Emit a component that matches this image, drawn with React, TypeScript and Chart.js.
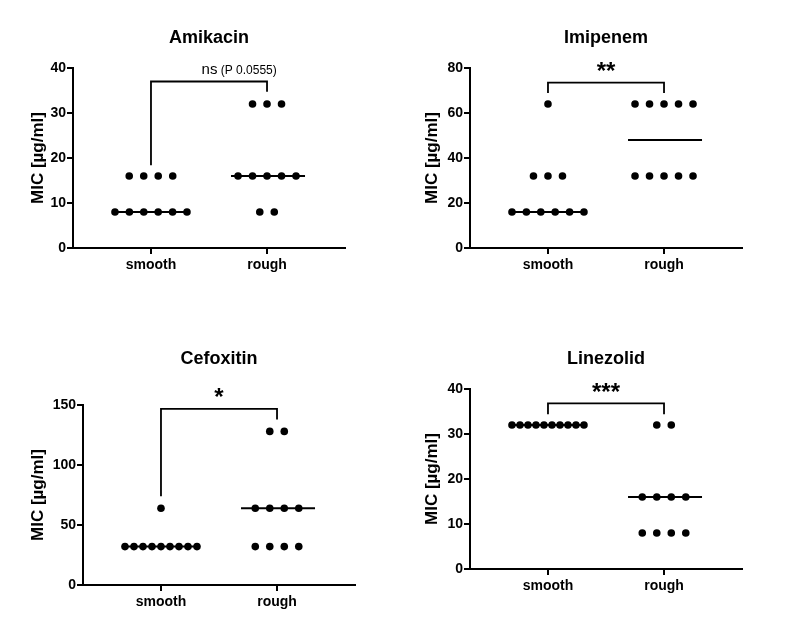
import React, { useEffect, useRef } from 'react';
import { Chart, registerables } from 'chart.js';

Chart.register(...registerables);

const FONT = '"Liberation Sans", Arial, Helvetica, sans-serif';

// ---------- data ----------
const CATEGORIES = ['smooth', 'rough'];
const TITLES = ['Amikacin', 'Imipenem', 'Cefoxitin', 'Linezolid'];
const Y_LABEL = 'MIC [µg/ml]';

const AMIKACIN_SMOOTH = [8, 8, 8, 8, 8, 8, 16, 16, 16, 16];
const AMIKACIN_ROUGH = [8, 8, 16, 16, 16, 16, 16, 32, 32, 32];
const IMIPENEM_SMOOTH = [16, 16, 16, 16, 16, 16, 32, 32, 32, 64];
const IMIPENEM_ROUGH = [32, 32, 32, 32, 32, 64, 64, 64, 64, 64];
const CEFOXITIN_SMOOTH = [32, 32, 32, 32, 32, 32, 32, 32, 32, 64];
const CEFOXITIN_ROUGH = [32, 32, 32, 32, 64, 64, 64, 64, 128, 128];
const LINEZOLID_SMOOTH = [32, 32, 32, 32, 32, 32, 32, 32, 32, 32];
const LINEZOLID_ROUGH = [8, 8, 8, 8, 16, 16, 16, 16, 32, 32];

const Y_MAX = [40, 80, 150, 40];
const Y_STEP = [10, 20, 50, 10];

// significance brackets (values on the y scale)
const BRACKET_TOP = [37, 73.5, 146.7, 36.8];
const BRACKET_LEFT_END = [18.4, 68.9, 74, 34.4];
const BRACKET_RIGHT_END = [34.7, 68.9, 138, 34.4];
const BRACKET_LABEL = ['ns', '**', '*', '***'];
const BRACKET_NOTE = [' (P 0.0555)', '', '', ''];
const BRACKET_LABEL_X = [0.76, 0.5, 0.5, 0.5];

const GROUPS = [
  [AMIKACIN_SMOOTH, AMIKACIN_ROUGH],
  [IMIPENEM_SMOOTH, IMIPENEM_ROUGH],
  [CEFOXITIN_SMOOTH, CEFOXITIN_ROUGH],
  [LINEZOLID_SMOOTH, LINEZOLID_ROUGH],
];

// ---------- layout (style only) ----------
const PLOT_W = 272;
const PLOT_H = 180;
const Y_AXIS_W = 70;
const X_AXIS_H = 40;
const TOP_SPACE = 60;
const RIGHT_PAD = 10;
const X_MIN = -0.672;
const X_MAX = 1.672;
const PX_PER_CAT = PLOT_W / (X_MAX - X_MIN);
const MAX_DOT_SPACING = 14.5;
const ROW_WIDTH = 72;
const MEDIAN_LEFT = 36;
const MEDIAN_RIGHT = 38;
const Y_TITLE_SIZE = 17;
const STAR_SIZE = 24;

const PANELS = [
  { plotLeft: 73, plotTop: 68, titleY: 38, yTitleOffset: 35 },
  { plotLeft: 470, plotTop: 68, titleY: 38, yTitleOffset: 38 },
  { plotLeft: 83, plotTop: 405, titleY: 359, yTitleOffset: 45 },
  { plotLeft: 470, plotTop: 389, titleY: 359, yTitleOffset: 38 },
];

function swarm(values: number[], cat: number) {
  const counts = new Map<number, number>();
  values.forEach((v) => counts.set(v, (counts.get(v) || 0) + 1));
  const pts: { x: number; y: number }[] = [];
  counts.forEach((n, v) => {
    const sp = Math.min(MAX_DOT_SPACING, ROW_WIDTH / Math.max(n - 1, 1)) / PX_PER_CAT;
    for (let k = 0; k < n; k++) pts.push({ x: cat + (k - (n - 1) / 2) * sp, y: v });
  });
  return pts;
}

function median(values: number[]) {
  const s = [...values].sort((a, b) => a - b);
  const m = Math.floor(s.length / 2);
  return s.length % 2 ? s[m] : (s[m - 1] + s[m]) / 2;
}

const bracketPlugin = {
  id: 'bracket',
  afterDatasetsDraw(chart: any, _args: any, opts: any) {
    const { ctx } = chart;
    const x = chart.scales.x;
    const y = chart.scales.y;
    const x0 = x.getPixelForValue(0);
    const x1 = x.getPixelForValue(1);
    const yt = y.getPixelForValue(opts.top);
    const yl = y.getPixelForValue(opts.leftEnd);
    const yr = y.getPixelForValue(opts.rightEnd);
    ctx.save();
    ctx.strokeStyle = '#000';
    ctx.lineWidth = 1.8;
    ctx.lineCap = 'butt';
    ctx.lineJoin = 'miter';
    ctx.beginPath();
    ctx.moveTo(x0, yl);
    ctx.lineTo(x0, yt);
    ctx.lineTo(x1, yt);
    ctx.lineTo(x1, yr);
    ctx.stroke();
    ctx.fillStyle = '#000';
    ctx.textBaseline = 'alphabetic';
    const lx = x.getPixelForValue(opts.labelX);
    if (opts.note) {
      ctx.font = `15px ${FONT}`;
      const w1 = ctx.measureText(opts.label).width;
      ctx.font = `12px ${FONT}`;
      const w2 = ctx.measureText(opts.note).width;
      const start = lx - (w1 + w2) / 2;
      ctx.textAlign = 'left';
      ctx.font = `15px ${FONT}`;
      ctx.fillText(opts.label, start, yt - 8);
      ctx.font = `12px ${FONT}`;
      ctx.fillText(opts.note, start + w1, yt - 8);
    } else {
      ctx.textAlign = 'center';
      ctx.font = `bold ${STAR_SIZE}px ${FONT}`;
      ctx.fillText(opts.label, lx, yt - 3.5);
    }
    ctx.restore();
  },
};

function Panel({ i }: { i: number }) {
  const ref = useRef<HTMLCanvasElement>(null);
  const p = PANELS[i];
  const cw = Y_AXIS_W + PLOT_W + RIGHT_PAD;
  const ch = TOP_SPACE + PLOT_H + X_AXIS_H;
  const left = p.plotLeft - Y_AXIS_W;
  const top = p.plotTop - TOP_SPACE;

  useEffect(() => {
    if (!ref.current) return;
    const titleSize = 18;
    const lh = titleSize * 1.2;
    const t1 = p.titleY - top - lh / 2;
    const t2 = TOP_SPACE - lh - t1;
    const yTitlePad = Y_AXIS_W - p.yTitleOffset - (Y_TITLE_SIZE * 1.2) / 2;
    const datasets: any[] = [];
    GROUPS[i].forEach((vals, c) => {
      datasets.push({
        data: swarm(vals, c),
        backgroundColor: '#000',
        borderWidth: 0,
        pointRadius: 3.8,
        showLine: false,
        clip: false,
        order: 0,
      });
    });
    GROUPS[i].forEach((vals, c) => {
      const m = median(vals);
      datasets.push({
        data: [
          { x: c - MEDIAN_LEFT / PX_PER_CAT, y: m },
          { x: c + MEDIAN_RIGHT / PX_PER_CAT, y: m },
        ],
        showLine: true,
        borderColor: '#000',
        borderWidth: 2,
        pointRadius: 0,
        clip: false,
        order: 1,
      });
    });

    const chart = new Chart(ref.current, {
      type: 'scatter',
      data: { datasets },
      plugins: [bracketPlugin],
      options: {
        animation: false,
        responsive: false,
        events: [],
        layout: { padding: { left: 0, right: RIGHT_PAD, top: 0, bottom: 0 } },
        plugins: {
          legend: { display: false },
          tooltip: { enabled: false },
          title: {
            display: true,
            text: TITLES[i],
            fullSize: false,
            color: '#000',
            font: { family: FONT, size: titleSize, weight: 'bold' },
            padding: { top: t1, bottom: t2 },
          },
          bracket: {
            top: BRACKET_TOP[i],
            leftEnd: BRACKET_LEFT_END[i],
            rightEnd: BRACKET_RIGHT_END[i],
            label: BRACKET_LABEL[i],
            note: BRACKET_NOTE[i],
            labelX: BRACKET_LABEL_X[i],
          },
        } as any,
        scales: {
          x: {
            type: 'linear',
            min: X_MIN,
            max: X_MAX,
            afterFit: (s: any) => {
              s.height = X_AXIS_H;
            },
            afterBuildTicks: (s: any) => {
              s.ticks = CATEGORIES.map((_, k) => ({ value: k }));
            },
            ticks: {
              color: '#000',
              font: { family: FONT, size: 14, weight: 'bold' },
              padding: 3,
              maxRotation: 0,
              autoSkip: false,
              callback: (v: any) => CATEGORIES[Math.round(Number(v))] ?? '',
            },
            grid: {
              drawOnChartArea: false,
              drawTicks: true,
              tickLength: 6,
              color: '#000',
              lineWidth: 2,
            },
            border: { display: true, color: '#000', width: 2 },
          },
          y: {
            type: 'linear',
            min: 0,
            max: Y_MAX[i],
            afterFit: (s: any) => {
              s.width = Y_AXIS_W;
            },
            ticks: {
              stepSize: Y_STEP[i],
              color: '#000',
              font: { family: FONT, size: 14, weight: 'bold' },
              padding: 1,
            },
            grid: {
              drawOnChartArea: false,
              drawTicks: true,
              tickLength: 6,
              color: '#000',
              lineWidth: 2,
            },
            border: { display: true, color: '#000', width: 2 },
            title: {
              display: true,
              text: Y_LABEL,
              color: '#000',
              font: { family: FONT, size: Y_TITLE_SIZE, weight: 'bold' },
              padding: { top: yTitlePad, bottom: 0 },
            },
          },
        },
      } as any,
    });
    return () => chart.destroy();
  }, [i]);

  return (
    <canvas
      ref={ref}
      width={cw}
      height={ch}
      style={{ position: 'absolute', left, top, width: cw, height: ch }}
    />
  );
}

export default function App() {
  return (
    <div
      style={{
        position: 'absolute',
        left: 0,
        top: 0,
        width: 800,
        height: 637,
        background: '#fff',
        overflow: 'hidden',
      }}
    >
      {PANELS.map((_, i) => (
        <Panel key={i} i={i} />
      ))}
    </div>
  );
}
